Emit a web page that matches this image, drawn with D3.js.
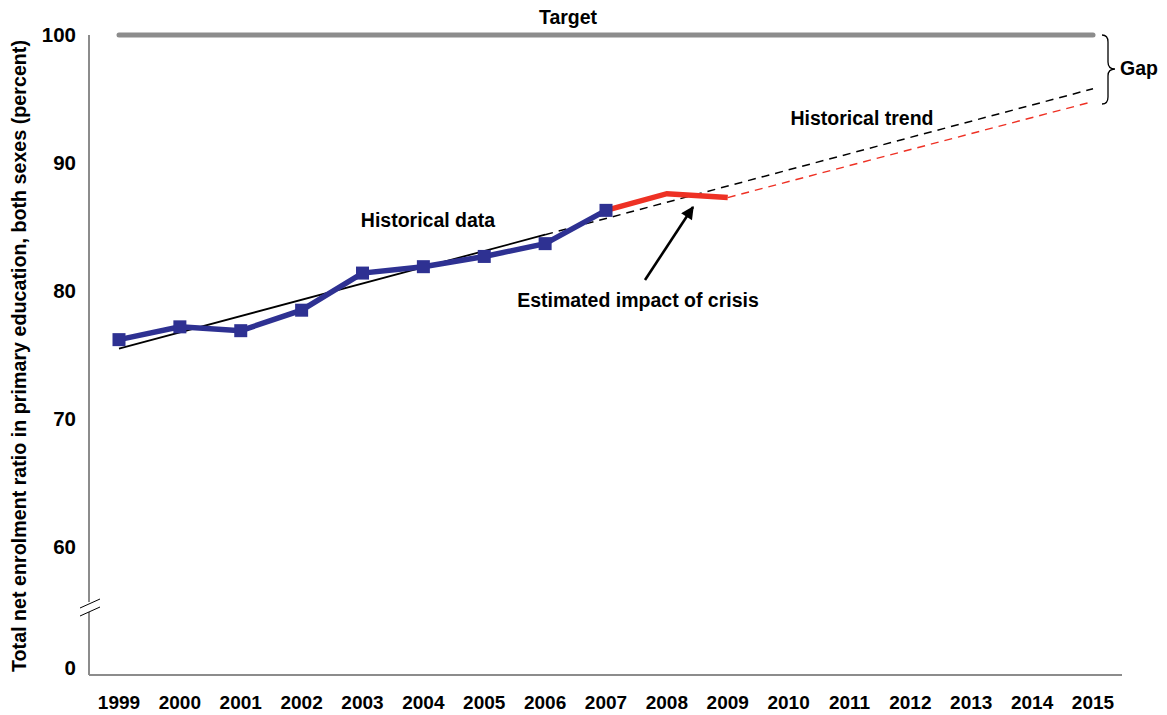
<!DOCTYPE html>
<html>
<head>
<meta charset="utf-8">
<script src="https://cdn.jsdelivr.net/npm/d3@7"></script>
<style>
  body { margin: 0; background: #fff; }
  text { font-family: "Liberation Sans", Arial, sans-serif; font-weight: bold; fill: #000; }
</style>
</head>
<body>
<div id="chart-area"></div>
<script>
// data
var years = [1999, 2000, 2001, 2002, 2003, 2004, 2005, 2006, 2007, 2008, 2009, 2010, 2011, 2012, 2013, 2014, 2015];
var histYears = [1999, 2000, 2001, 2002, 2003, 2004, 2005, 2006, 2007];
var histValues = [76.2, 77.2, 76.9, 78.5, 81.4, 81.9, 82.7, 83.7, 86.3];
var crisisYears = [2007, 2008, 2009];
var crisisValues = [86.3, 87.6, 87.3];
var trendSolidYears = [1999, 2006];
var trendSolidValues = [75.5, 84.4];
var trendDashYears = [2006, 2015];
var trendDashValues = [84.4, 95.8];
var crisisTrendYears = [2009, 2015];
var crisisTrendValues = [87.3, 94.8];
var targetYears = [1999, 2015];
var targetValues = [100, 100];
var yTicks = [0, 60, 70, 80, 90, 100];

var width = 1167, height = 715;
var svg = d3.select("#chart-area").append("svg")
  .attr("width", width)
  .attr("height", height);

var xscale = d3.scaleLinear().domain([1999, 2015]).range([119, 1093]);
// broken axis: 0 sits just under the break, 55..100 is linear
var yscale = d3.scaleLinear().domain([0, 55, 100]).range([670, 611, 35]);

var axisColor = "#8c8c8c";
var blue = "#2e3192";
var red = "#ee3124";

// axes lines
svg.append("line").attr("x1", 89).attr("x2", 89).attr("y1", 35).attr("y2", 675)
  .attr("stroke", axisColor).attr("stroke-width", 2);
svg.append("line").attr("x1", 89).attr("x2", 1122).attr("y1", 675).attr("y2", 675)
  .attr("stroke", axisColor).attr("stroke-width", 2);

// break marks
svg.append("rect").attr("x", 84).attr("y", 602).attr("width", 10).attr("height", 10).attr("fill", "#fff");
[0, 8].forEach(function (o) {
  svg.append("line")
    .attr("x1", 80).attr("y1", 608 + o)
    .attr("x2", 100).attr("y2", 599 + o)
    .attr("stroke", "#000").attr("stroke-width", 1);
});

// y tick labels
svg.selectAll(".ylab").data(yTicks).enter().append("text")
  .attr("class", "ylab")
  .attr("x", 76)
  .attr("y", function (d) { return d === 0 ? 668 : yscale(d); })
  .attr("dy", "0.35em")
  .attr("text-anchor", "end")
  .attr("font-size", "20.5px")
  .text(function (d) { return d; });

// x tick labels
svg.selectAll(".xlab").data(years).enter().append("text")
  .attr("class", "xlab")
  .attr("x", function (d) { return xscale(d); })
  .attr("y", 702)
  .attr("dy", "0.35em")
  .attr("text-anchor", "middle")
  .attr("font-size", "19px")
  .text(function (d) { return d; });

// y axis title
svg.append("text")
  .attr("transform", "translate(26,356) rotate(-90)")
  .attr("text-anchor", "middle")
  .attr("font-size", "19.7px")
  .text("Total net enrolment ratio in primary education, both sexes (percent)");

var line = d3.line()
  .x(function (d) { return xscale(d[0]); })
  .y(function (d) { return yscale(d[1]); });

function pairs(xs, ys) {
  return xs.map(function (x, i) { return [x, ys[i]]; });
}

// target
svg.append("path").datum(pairs(targetYears, targetValues))
  .attr("d", line).attr("fill", "none")
  .attr("stroke", axisColor).attr("stroke-width", 5).attr("stroke-linecap", "round");

// trend lines
svg.append("path").datum(pairs(trendSolidYears, trendSolidValues))
  .attr("d", line).attr("fill", "none")
  .attr("stroke", "#000").attr("stroke-width", 1.8);
svg.append("path").datum(pairs(trendDashYears, trendDashValues))
  .attr("d", line).attr("fill", "none")
  .attr("stroke", "#000").attr("stroke-width", 1.5).attr("stroke-dasharray", "8,6");
svg.append("path").datum(pairs(crisisTrendYears, crisisTrendValues))
  .attr("d", line).attr("fill", "none")
  .attr("stroke", red).attr("stroke-width", 1.4).attr("stroke-dasharray", "8,6");

// crisis line
svg.append("path").datum(pairs(crisisYears, crisisValues))
  .attr("d", line).attr("fill", "none")
  .attr("stroke", red).attr("stroke-width", 5.5);

// historical line + markers
var hist = pairs(histYears, histValues);
svg.append("path").datum(hist)
  .attr("d", line).attr("fill", "none")
  .attr("stroke", blue).attr("stroke-width", 5.5);
svg.selectAll(".marker").data(hist).enter().append("rect")
  .attr("class", "marker")
  .attr("x", function (d) { return xscale(d[0]) - 6.5; })
  .attr("y", function (d) { return yscale(d[1]) - 6.5; })
  .attr("width", 13).attr("height", 13)
  .attr("fill", blue);

// arrow
svg.append("defs").append("marker")
  .attr("id", "arrow")
  .attr("viewBox", "0 0 10 10")
  .attr("refX", 9).attr("refY", 5)
  .attr("markerWidth", 5.5).attr("markerHeight", 5)
  .attr("orient", "auto")
  .append("path").attr("d", "M0,0 L10,5 L0,10 Z").attr("fill", "#000");
svg.append("line")
  .attr("x1", 645).attr("y1", 280).attr("x2", 693).attr("y2", 207)
  .attr("stroke", "#000").attr("stroke-width", 2.6)
  .attr("marker-end", "url(#arrow)");

// annotations
function note(x, y, s, anchor) {
  svg.append("text").attr("x", x).attr("y", y).attr("dy", "0.35em")
    .attr("text-anchor", anchor || "middle")
    .attr("font-size", "19.5px")
    .text(s);
}
note(568, 17, "Target");
note(428, 220, "Historical data");
note(862, 118, "Historical trend");
note(638, 300, "Estimated impact of crisis");
note(1120, 68, "Gap", "start");

// brace for the gap
svg.append("path")
  .attr("d", "M1102,35 Q1108,35 1108,42 L1108,62 Q1108,69 1115,69 Q1108,69 1108,76 L1108,97 Q1108,104 1102,104")
  .attr("fill", "none").attr("stroke", "#000").attr("stroke-width", 1.3);
</script>
</body>
</html>
